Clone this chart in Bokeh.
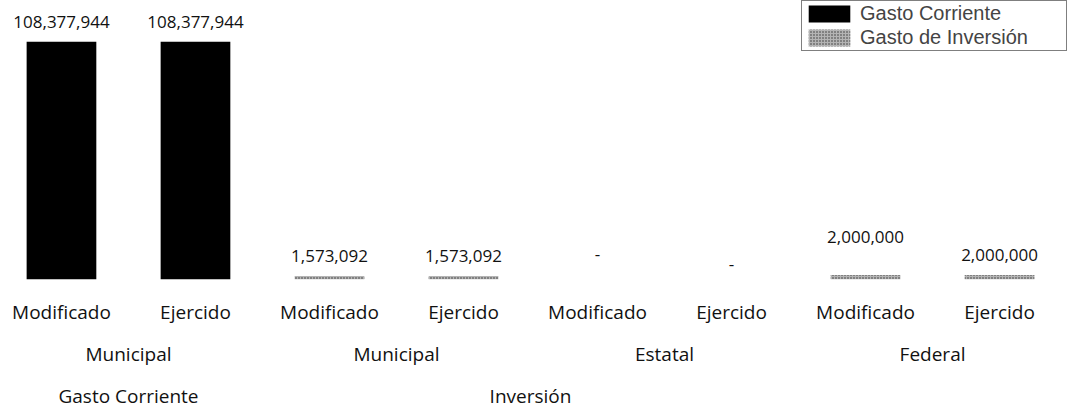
from bokeh.plotting import figure
from bokeh.models import (Range1d, LinearAxis, FixedTicker, ColumnDataSource,
                          Legend, LegendItem)
from bokeh.embed import file_html
from bokeh.resources import INLINE
from bokeh.core.properties import value

# ---------------- data ----------------
groups = ["Gasto Corriente", "Inversión"]
sources = ["Municipal", "Municipal", "Estatal", "Federal"]
source_group = [0, 1, 1, 1]
stages = ["Modificado", "Ejercido"]
values = [108377944, 108377944, 1573092, 1573092, 0, 0, 2000000, 2000000]
series_names = ["Gasto Corriente", "Gasto de Inversión"]
bar_series = [0, 0, 1, 1, 1, 1, 1, 1]
series_colors = ["#000000", "#b4b4b4"]
series_hatch = [" ", "dot"]

# ---------------- build ----------------
n = len(values)
xs = list(range(n))
labels = [f"{v:,}" if v else "-" for v in values]
raise_px = {4: 6, 5: -4, 6: 18}  # some value labels sit at other heights in the original
offsets = [-14 - raise_px.get(i, 0) for i in xs]

FONT = "Open Sans"

p = figure(width=1067, height=411, output_backend="svg", toolbar_location=None,
           x_range=Range1d(-0.455, 7.507), y_range=Range1d(0, max(values) * 1.173),
           y_axis_location=None, min_border_left=0, min_border_right=0,
           min_border_top=0, min_border_bottom=0)
p.outline_line_color = None
p.xgrid.visible = False
p.ygrid.visible = False
p.background_fill_color = "white"
p.border_fill_color = "white"

renderers = []
for s, name in enumerate(series_names):
    idx = [i for i in xs if bar_series[i] == s]
    src = ColumnDataSource(dict(x=[xs[i] for i in idx], top=[values[i] for i in idx]))
    r = p.vbar(x="x", top="top", width=0.52, source=src,
               fill_color=series_colors[s], line_color=None,
               hatch_pattern=series_hatch[s], hatch_color="#333333", hatch_scale=3)
    renderers.append(r)

lab_src = ColumnDataSource(dict(x=xs, y=values, text=labels, off=offsets))
p.text(x="x", y="y", text="text", y_offset="off", source=lab_src,
       text_align="center", text_baseline="bottom",
       text_font=value(FONT), text_font_size="17px", text_color="#111111")

# ---------------- axes: three label rows ----------------
def style_axis(ax, standoff):
    ax.axis_line_color = None
    ax.major_tick_line_color = None
    ax.minor_tick_line_color = None
    ax.major_tick_out = 0
    ax.major_tick_in = 0
    ax.minor_tick_out = 0
    ax.major_label_standoff = standoff
    ax.major_label_text_font = FONT
    ax.major_label_text_font_size = "19px"
    ax.major_label_text_color = "#111111"

ax1 = p.xaxis[0]
ax1.ticker = FixedTicker(ticks=xs)
ax1.major_label_overrides = {i: stages[i % 2] for i in xs}
style_axis(ax1, 19)

src_centers = [2 * k + 0.5 for k in range(len(sources))]
ax2 = LinearAxis(ticker=FixedTicker(ticks=src_centers),
                 major_label_overrides={c: sources[k] for k, c in enumerate(src_centers)})
style_axis(ax2, 13)
p.add_layout(ax2, "below")

g0 = [2 * k + 0.5 for k in range(len(sources)) if source_group[k] == 0]
grp_pos = [sum(g0) / len(g0), (xs[0] + xs[-1]) / 2]
ax3 = LinearAxis(ticker=FixedTicker(ticks=grp_pos),
                 major_label_overrides={c: groups[k] for k, c in enumerate(grp_pos)})
style_axis(ax3, 13)
p.add_layout(ax3, "below")

# ---------------- legend ----------------
legend = Legend(items=[LegendItem(label=series_names[k], renderers=[renderers[k]])
                       for k in range(len(series_names))],
                location="top_right")
legend.glyph_width = 52
legend.glyph_height = 21
legend.label_text_font = "Liberation Sans"
legend.label_text_font_size = "20px"
legend.label_standoff = 5
legend.label_width = 205
legend.label_height = 21
legend.padding = 1
legend.spacing = 1
legend.margin = 0
legend.border_line_color = "black"
legend.border_line_width = 1
legend.background_fill_alpha = 1
p.add_layout(legend, "center")

open("out.html", "w").write(file_html(p, INLINE))
